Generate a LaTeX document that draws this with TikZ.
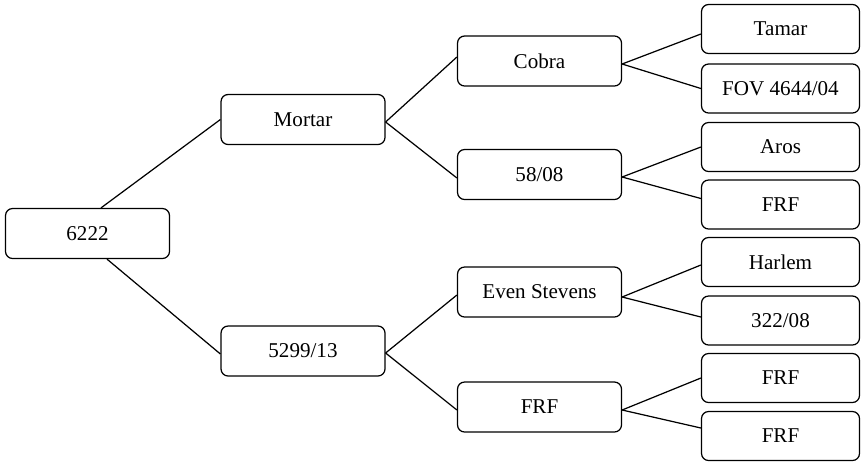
\documentclass[tikz,border=0pt]{standalone}
\usepackage{fontspec}
\setmainfont{Liberation Serif}
\begin{document}
\begin{tikzpicture}[x=0.02cm, y=-0.02cm, line width=0.7pt]
  \useasboundingbox (0,0) rectangle (861,461);
  \begin{scope}[every node/.style={rounded corners=4pt, draw, minimum width=3.28cm, minimum height=1cm, inner sep=0pt, font=\fontsize{12}{14}\selectfont}]
    \node (r) at (87.5,233.5) {6222} ;
    \node (m) at (303,119.5) {Mortar} ;
    \node (p) at (303,351) {5299/13} ;
    \node (c) at (539.5,61) {Cobra} ;
    \node (f) at (539.5,174.5) {58/08} ;
    \node (e) at (539.5,292) {Even Stevens} ;
    \node (g) at (539.5,407) {FRF} ;
  \end{scope}

  \begin{scope}[every node/.style={rounded corners=4pt, draw, minimum width=3.16cm, minimum height=0.98cm, inner sep=0pt, font=\fontsize{12}{14}\selectfont}]
    \node (t) at (780.5,29) {Tamar} ;
    \node (v) at (780.5,88.5) {FOV 4644/04} ;
    \node (a) at (780.5,147) {Aros} ;
    \node (x1) at (780.5,204.5) {FRF} ;
    \node (h) at (780.5,262) {Harlem} ;
    \node (s) at (780.5,320.5) {322/08} ;
    \node (x2) at (780.5,378) {FRF} ;
    \node (x3) at (780.5,436) {FRF} ;
  \end{scope}

  \begin{scope}[-]
    \draw ([xshift=0.27cm]r.north) to (m.west);
    \draw ([xshift=0.39cm]r.south) to ([yshift=-0.06cm]p.west);
    \draw ([yshift=-0.05cm]m.east) to ([yshift=0.08cm]c.west);
    \draw ([yshift=-0.05cm]m.east) to ([yshift=-0.07cm]f.west);
    \draw ([yshift=-0.04cm]p.east) to ([yshift=-0.06cm]e.west);
    \draw ([yshift=-0.04cm]p.east) to ([yshift=-0.06cm]g.west);
    \draw ([yshift=-0.06cm]c.east) to ([yshift=-0.1cm]t.west);
    \draw ([yshift=-0.06cm]c.east) to (v.west);
    \draw ([yshift=-0.05cm]f.east) to (a.west);
    \draw ([yshift=-0.05cm]f.east) to ([yshift=0.12cm]x1.west);
    \draw ([yshift=-0.1cm]e.east) to ([yshift=-0.06cm]h.west);
    \draw ([yshift=-0.1cm]e.east) to ([yshift=0.07cm]s.west);
    \draw ([yshift=-0.06cm]g.east) to (x2.west);
    \draw ([yshift=-0.06cm]g.east) to ([yshift=0.16cm]x3.west);
  \end{scope}
\end{tikzpicture}
\end{document}
